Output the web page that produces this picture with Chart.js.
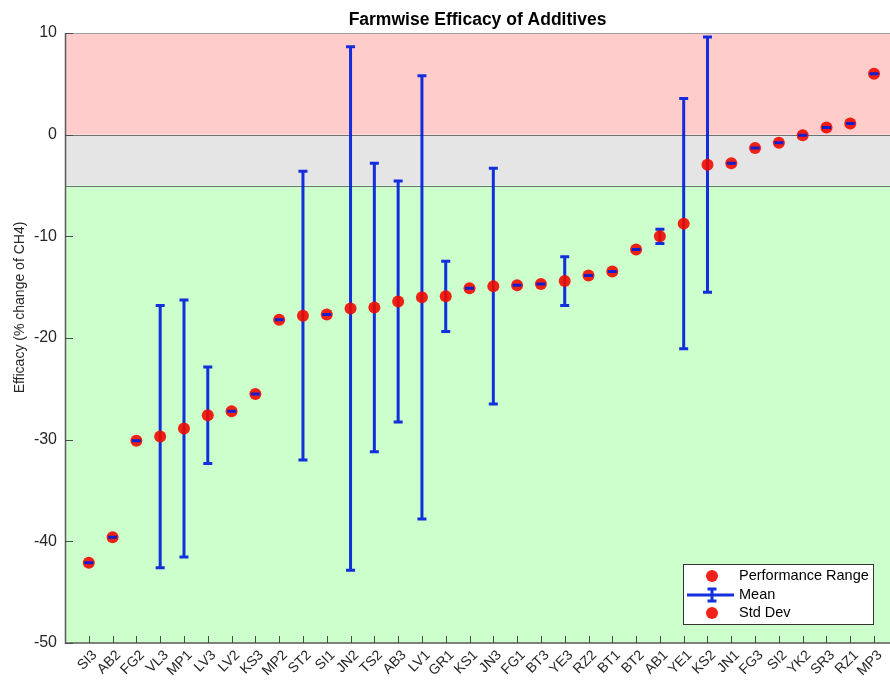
<!DOCTYPE html>
<html>
<head>
<meta charset="utf-8">
<script src="https://cdn.jsdelivr.net/npm/chart.js@4.4.1/dist/chart.umd.min.js"></script>
<style>
  html, body { margin: 0; padding: 0; background: #fff; overflow: hidden; }
  #wrap { width: 890px; height: 684px; }
</style>
</head>
<body>
<div id="wrap"><canvas id="chart" width="890" height="684"></canvas></div>
<script>
const farms = ['SI3', 'AB2', 'FG2', 'VL3', 'MP1', 'LV3', 'LV2', 'KS3', 'MP2', 'ST2', 'SI1', 'JN2', 'TS2', 'AB3', 'LV1', 'GR1', 'KS1',
  'JN3', 'FG1', 'BT3', 'YE3', 'RZ2', 'BT1', 'BT2', 'AB1', 'YE1', 'KS2', 'JN1', 'FG3', 'SI2', 'YK2', 'SR3', 'RZ1', 'MP3']
const meanVals = [-42.1, -39.6, -30.1, -29.7, -28.9, -27.6, -27.2, -25.5, -18.2, -17.8, -17.7, -17.1, -17.0, -16.4, -16.0, -15.9, -15.1,
  -14.9, -14.8, -14.7, -14.4, -13.85, -13.45, -11.3, -10.0, -8.75, -2.95, -2.8, -1.3, -0.8, -0.05, 0.7, 1.1, 6.0]
const stdDevs = [0, 0, 0, 12.9, 12.65, 4.75, 0, 0, 0, 14.2, 0, 25.75, 14.2, 11.85, 21.8, 3.45, 0,
  11.6, 0, 0, 2.4, 0, 0, 0, 0.7, 12.3, 12.55, 0, 0, 0, 0, 0, 0, 0]
const yTicks = [10, 0, -10, -20, -30, -40, -50]
// zone limits: worse (above 0), neutral (-5..0), better (below -5)
const zoneEdges = [10, 0, -5, -50]

const FONT = "'Liberation Sans', Arial, sans-serif"
const RED = 'rgba(240, 10, 0, 0.9)'
const BLUE = 'rgba(0, 30, 220, 0.92)'

// coloured zones + axes frame and inside ticks (matlab style)
const backdrop = {
  id: 'backdrop',
  beforeDatasetsDraw(chart) {
    const { ctx, chartArea: a, scales: { x, y } } = chart
    const zoneColors = ['#ffcccc', '#e5e5e5', '#ccffcc']
    ctx.save()
    for (let i = 0; i < zoneColors.length; i++) {
      const top = y.getPixelForValue(zoneEdges[i])
      const bot = y.getPixelForValue(zoneEdges[i + 1])
      ctx.fillStyle = zoneColors[i]
      ctx.fillRect(a.left, top, a.right - a.left, bot - top)
    }
    ctx.strokeStyle = '#707070'
    ctx.lineWidth = 1.2
    ;[zoneEdges[1], zoneEdges[2]].forEach(v => {
      const py = Math.round(y.getPixelForValue(v)) + 0.5
      ctx.beginPath(); ctx.moveTo(a.left, py); ctx.lineTo(a.right, py); ctx.stroke()
    })
    // top border
    ctx.strokeStyle = '#a0a0a0'
    ctx.beginPath(); ctx.moveTo(a.left, a.top + 0.5); ctx.lineTo(a.right, a.top + 0.5); ctx.stroke()
    // left + bottom axis
    ctx.strokeStyle = '#5a5a5a'
    ctx.lineWidth = 1.5
    ctx.beginPath()
    ctx.moveTo(a.left + 0.5, a.top); ctx.lineTo(a.left + 0.5, a.bottom); ctx.lineTo(a.right, a.bottom)
    ctx.stroke()
    // inside ticks
    ctx.lineWidth = 1
    ctx.strokeStyle = '#4a4a4a'
    yTicks.forEach(v => {
      const py = Math.round(y.getPixelForValue(v)) + 0.5
      ctx.beginPath(); ctx.moveTo(a.left, py); ctx.lineTo(a.left + 8, py); ctx.stroke()
    })
    farms.forEach((f, i) => {
      const px = Math.round(x.getPixelForValue(i + 1)) + 0.5
      ctx.beginPath(); ctx.moveTo(px, a.bottom); ctx.lineTo(px, a.bottom - 7); ctx.stroke()
    })
    // y axis title
    ctx.fillStyle = '#262626'
    ctx.font = '14px ' + FONT
    ctx.textAlign = 'center'
    ctx.textBaseline = 'middle'
    ctx.translate(20, y.getPixelForValue(-17))
    ctx.rotate(-Math.PI / 2)
    ctx.fillText('Efficacy (% change of CH4)', 0, 0)
    ctx.restore()
  }
}

function drawBars(chart, withSpread) {
  const { ctx, scales: { x, y } } = chart
  ctx.save()
  ctx.strokeStyle = BLUE
  ctx.lineWidth = 3
  meanVals.forEach((m, i) => {
    if ((stdDevs[i] > 0) !== withSpread) return
    const px = x.getPixelForValue(i + 1)
    const hi = y.getPixelForValue(m + stdDevs[i])
    const lo = y.getPixelForValue(m - stdDevs[i])
    ctx.beginPath()
    ctx.moveTo(px, hi); ctx.lineTo(px, lo)
    ctx.moveTo(px - 4.5, hi); ctx.lineTo(px + 4.5, hi)
    ctx.moveTo(px - 4.5, lo); ctx.lineTo(px + 4.5, lo)
    ctx.stroke()
  })
  ctx.restore()
}

// bars with a spread sit under the dots, zero-spread caps show on top
const errorBars = {
  id: 'errorBars',
  beforeDatasetsDraw(chart) { drawBars(chart, true) },
  afterDatasetsDraw(chart) { drawBars(chart, false) },
}

const legendBox = {
  id: 'legendBox',
  afterDraw(chart) {
    const { ctx, chartArea: a } = chart
    const bx = a.right - 207, by = a.bottom - 79, bw = 190, bh = 60
    ctx.save()
    ctx.fillStyle = '#fff'
    ctx.fillRect(bx, by, bw, bh)
    ctx.strokeStyle = '#333'
    ctx.lineWidth = 1
    ctx.strokeRect(bx + 0.5, by + 0.5, bw, bh)
    const iconX = bx + 29
    const rows = [by + 12, by + 31, by + 49]
    ctx.fillStyle = RED
    ;[rows[0], rows[2]].forEach(ry => {
      ctx.beginPath(); ctx.arc(iconX, ry, 6, 0, Math.PI * 2); ctx.fill()
    })
    ctx.strokeStyle = BLUE
    ctx.lineWidth = 3
    ctx.beginPath()
    ctx.moveTo(bx + 4, rows[1]); ctx.lineTo(bx + 51, rows[1])
    ctx.moveTo(iconX, rows[1] - 6); ctx.lineTo(iconX, rows[1] + 6)
    ctx.moveTo(iconX - 4.5, rows[1] - 6); ctx.lineTo(iconX + 4.5, rows[1] - 6)
    ctx.moveTo(iconX - 4.5, rows[1] + 6); ctx.lineTo(iconX + 4.5, rows[1] + 6)
    ctx.stroke()
    ctx.fillStyle = '#000'
    ctx.font = '14.5px ' + FONT
    ctx.textBaseline = 'middle'
    ctx.fillText('Performance Range', bx + 56, rows[0])
    ctx.fillText('Mean', bx + 56, rows[1])
    ctx.fillText('Std Dev', bx + 56, rows[2])
    ctx.restore()
  }
}

new Chart(document.getElementById('chart'), {
  type: 'scatter',
  data: {
    datasets: [{
      label: 'Performance Range',
      data: meanVals.map((v, i) => ({ x: i + 1, y: v })),
      pointRadius: 6,
      pointBackgroundColor: RED,
      pointBorderWidth: 0,
    }],
  },
  options: {
    responsive: false,
    animation: false,
    devicePixelRatio: 1,
    layout: { padding: 0, autoPadding: false },
    plugins: {
      legend: { display: false },
      tooltip: { enabled: false },
      title: {
        display: true,
        text: 'Farmwise Efficacy of Additives',
        fullSize: false,
        color: '#000',
        font: { family: FONT, size: 17.5, weight: 'bold', lineHeight: 1.2 },
        padding: { top: 10, bottom: 2 },
      },
    },
    scales: {
      x: {
        type: 'linear',
        min: 0,
        max: 34.67,
        afterBuildTicks: s => { s.ticks = farms.map((f, i) => ({ value: i + 1 })) },
        afterFit: s => { s.height = 41; s.paddingLeft = 0; s.paddingRight = 0 },
        grid: { display: false, drawTicks: false },
        border: { display: false },
        ticks: {
          autoSkip: false,
          minRotation: 45,
          maxRotation: 45,
          padding: 4,
          labelOffset: 6,
          color: '#262626',
          font: { family: FONT, size: 14 },
          callback: v => farms[v - 1],
        },
      },
      y: {
        min: -50,
        max: 10,
        afterBuildTicks: s => { s.ticks = yTicks.map(v => ({ value: v })) },
        afterFit: s => { s.width = 65; s.paddingTop = 0; s.paddingBottom = 0 },
        grid: { display: false, drawTicks: false },
        border: { display: false },
        ticks: {
          padding: 8,
          color: '#262626',
          font: { family: FONT, size: 16 },
        },
      },
    },
  },
  plugins: [backdrop, errorBars, legendBox],
})
</script>
</body>
</html>
